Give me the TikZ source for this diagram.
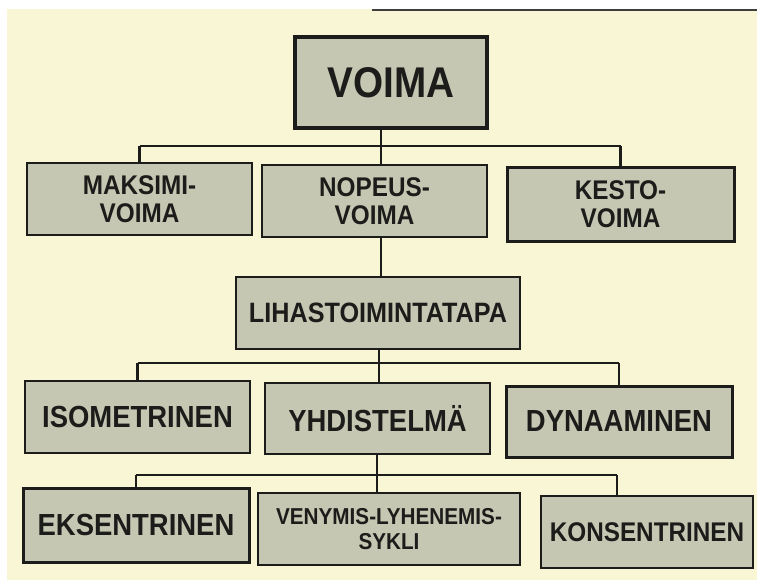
\documentclass[tikz,border=0pt]{standalone}
\usepackage{fontspec}
\newfontfamily\boxfont{Liberation Sans}[FakeStretch=0.9]
\newcommand{\boxsize}[2]{\fontsize{#1}{#2}\selectfont}
\definecolor{paper}{RGB}{248,246,212}
\definecolor{boxgray}{RGB}{198,199,178}
\definecolor{ink}{RGB}{28,28,26}
\begin{document}
\begin{tikzpicture}[
    x=1pt, y=-1pt,
    box/.style={draw=ink, fill=boxgray, text=ink, align=center, inner sep=0pt, line width=1.8pt},
    heavy/.style={line width=3pt},
    link/.style={draw=ink, line width=2.2pt}
]
\useasboundingbox (0,0) rectangle (757,580);
\fill[white] (0,0) rectangle (757,580);
\fill[paper] (7,9) rectangle (757,580);
\draw[ink!85, line width=2.5pt] (372,10) -- (757,10);

% top level
\node[box, heavy, line width=3.5pt, minimum width=192pt, minimum height=91pt,
    font=\boxfont\bfseries\boxsize{43}{46}] (voima) at (391,82.5) {VOIMA};

% voiman lajit
\node[box, line width=2.4pt, minimum width=225pt, minimum height=72pt,
    font=\boxfont\bfseries\boxsize{27}{28}] (maksimi) at (139.5,199) {MAKSIMI-\\VOIMA};
\node[box, minimum width=225pt, minimum height=72pt,
    font=\boxfont\bfseries\boxsize{27}{28}] (nopeus) at (374.5,201) {NOPEUS-\\VOIMA};
\node[box, heavy, minimum width=227pt, minimum height=73pt,
    font=\boxfont\bfseries\boxsize{27}{28}] (kesto) at (620.5,204.5) {KESTO-\\VOIMA};

% lihastoimintatapa
\node[box, minimum width=284pt, minimum height=72pt,
    font=\boxfont\bfseries\boxsize{28}{30}] (lihas) at (378,313) {LIHASTOIMINTATAPA};

\node[box, minimum width=225pt, minimum height=72pt,
    font=\boxfont\bfseries\boxsize{30.5}{33}] (iso) at (137.5,417) {ISOMETRINEN};
\node[box, minimum width=225pt, minimum height=71pt,
    font=\boxfont\bfseries\boxsize{30.5}{33}] (yhd) at (377.5,418.5) {YHDISTELMÄ};
\node[box, heavy, minimum width=226pt, minimum height=71pt,
    font=\boxfont\bfseries\boxsize{30.5}{33}] (dyn) at (619,421.5) {DYNAAMINEN};

% yhdistelman muodot
\node[box, heavy, minimum width=226pt, minimum height=74pt,
    font=\boxfont\bfseries\boxsize{30.5}{33}] (eks) at (136,525) {EKSENTRINEN};
\node[box, minimum width=262pt, minimum height=72pt,
    font=\boxfont\bfseries\boxsize{23}{25}] (veny) at (389,529) {VENYMIS-LYHENEMIS-\\SYKLI};
\node[box, minimum width=212pt, minimum height=72pt,
    font=\boxfont\bfseries\boxsize{27}{30}] (kons) at (647,532) {KONSENTRINEN};

% connectors
\coordinate (bar1) at (381,146);
\coordinate (bar2) at (379,363);
\coordinate (bar3) at (377,475);
\coordinate (end3) at (617,475);

\draw[link] (voima.south -| bar1) -- (bar1);
\draw[link] (bar1 -| maksimi) -- (bar1 -| kesto);
\draw[link] (bar1 -| maksimi) -- (maksimi.north);
\draw[link] (bar1) -- (bar1 |- nopeus.north);
\draw[link] (bar1 -| kesto) -- (kesto.north);

\draw[link] (nopeus.south -| bar1) -- (lihas.north -| bar1);

\draw[link] (lihas.south -| bar2) -- (bar2);
\draw[link] (bar2 -| iso) -- (bar2 -| dyn);
\draw[link] (bar2 -| iso) -- (iso.north);
\draw[link] (bar2) -- (bar2 |- yhd.north);
\draw[link] (bar2 -| dyn) -- (dyn.north);

\draw[link] (yhd.south -| bar3) -- (bar3);
\draw[link] (bar3 -| eks) -- (end3);
\draw[link] (bar3 -| eks) -- (eks.north);
\draw[link] (bar3) -- (bar3 |- veny.north);
\draw[link] (end3) -- (end3 |- kons.north);
\end{tikzpicture}
\end{document}
